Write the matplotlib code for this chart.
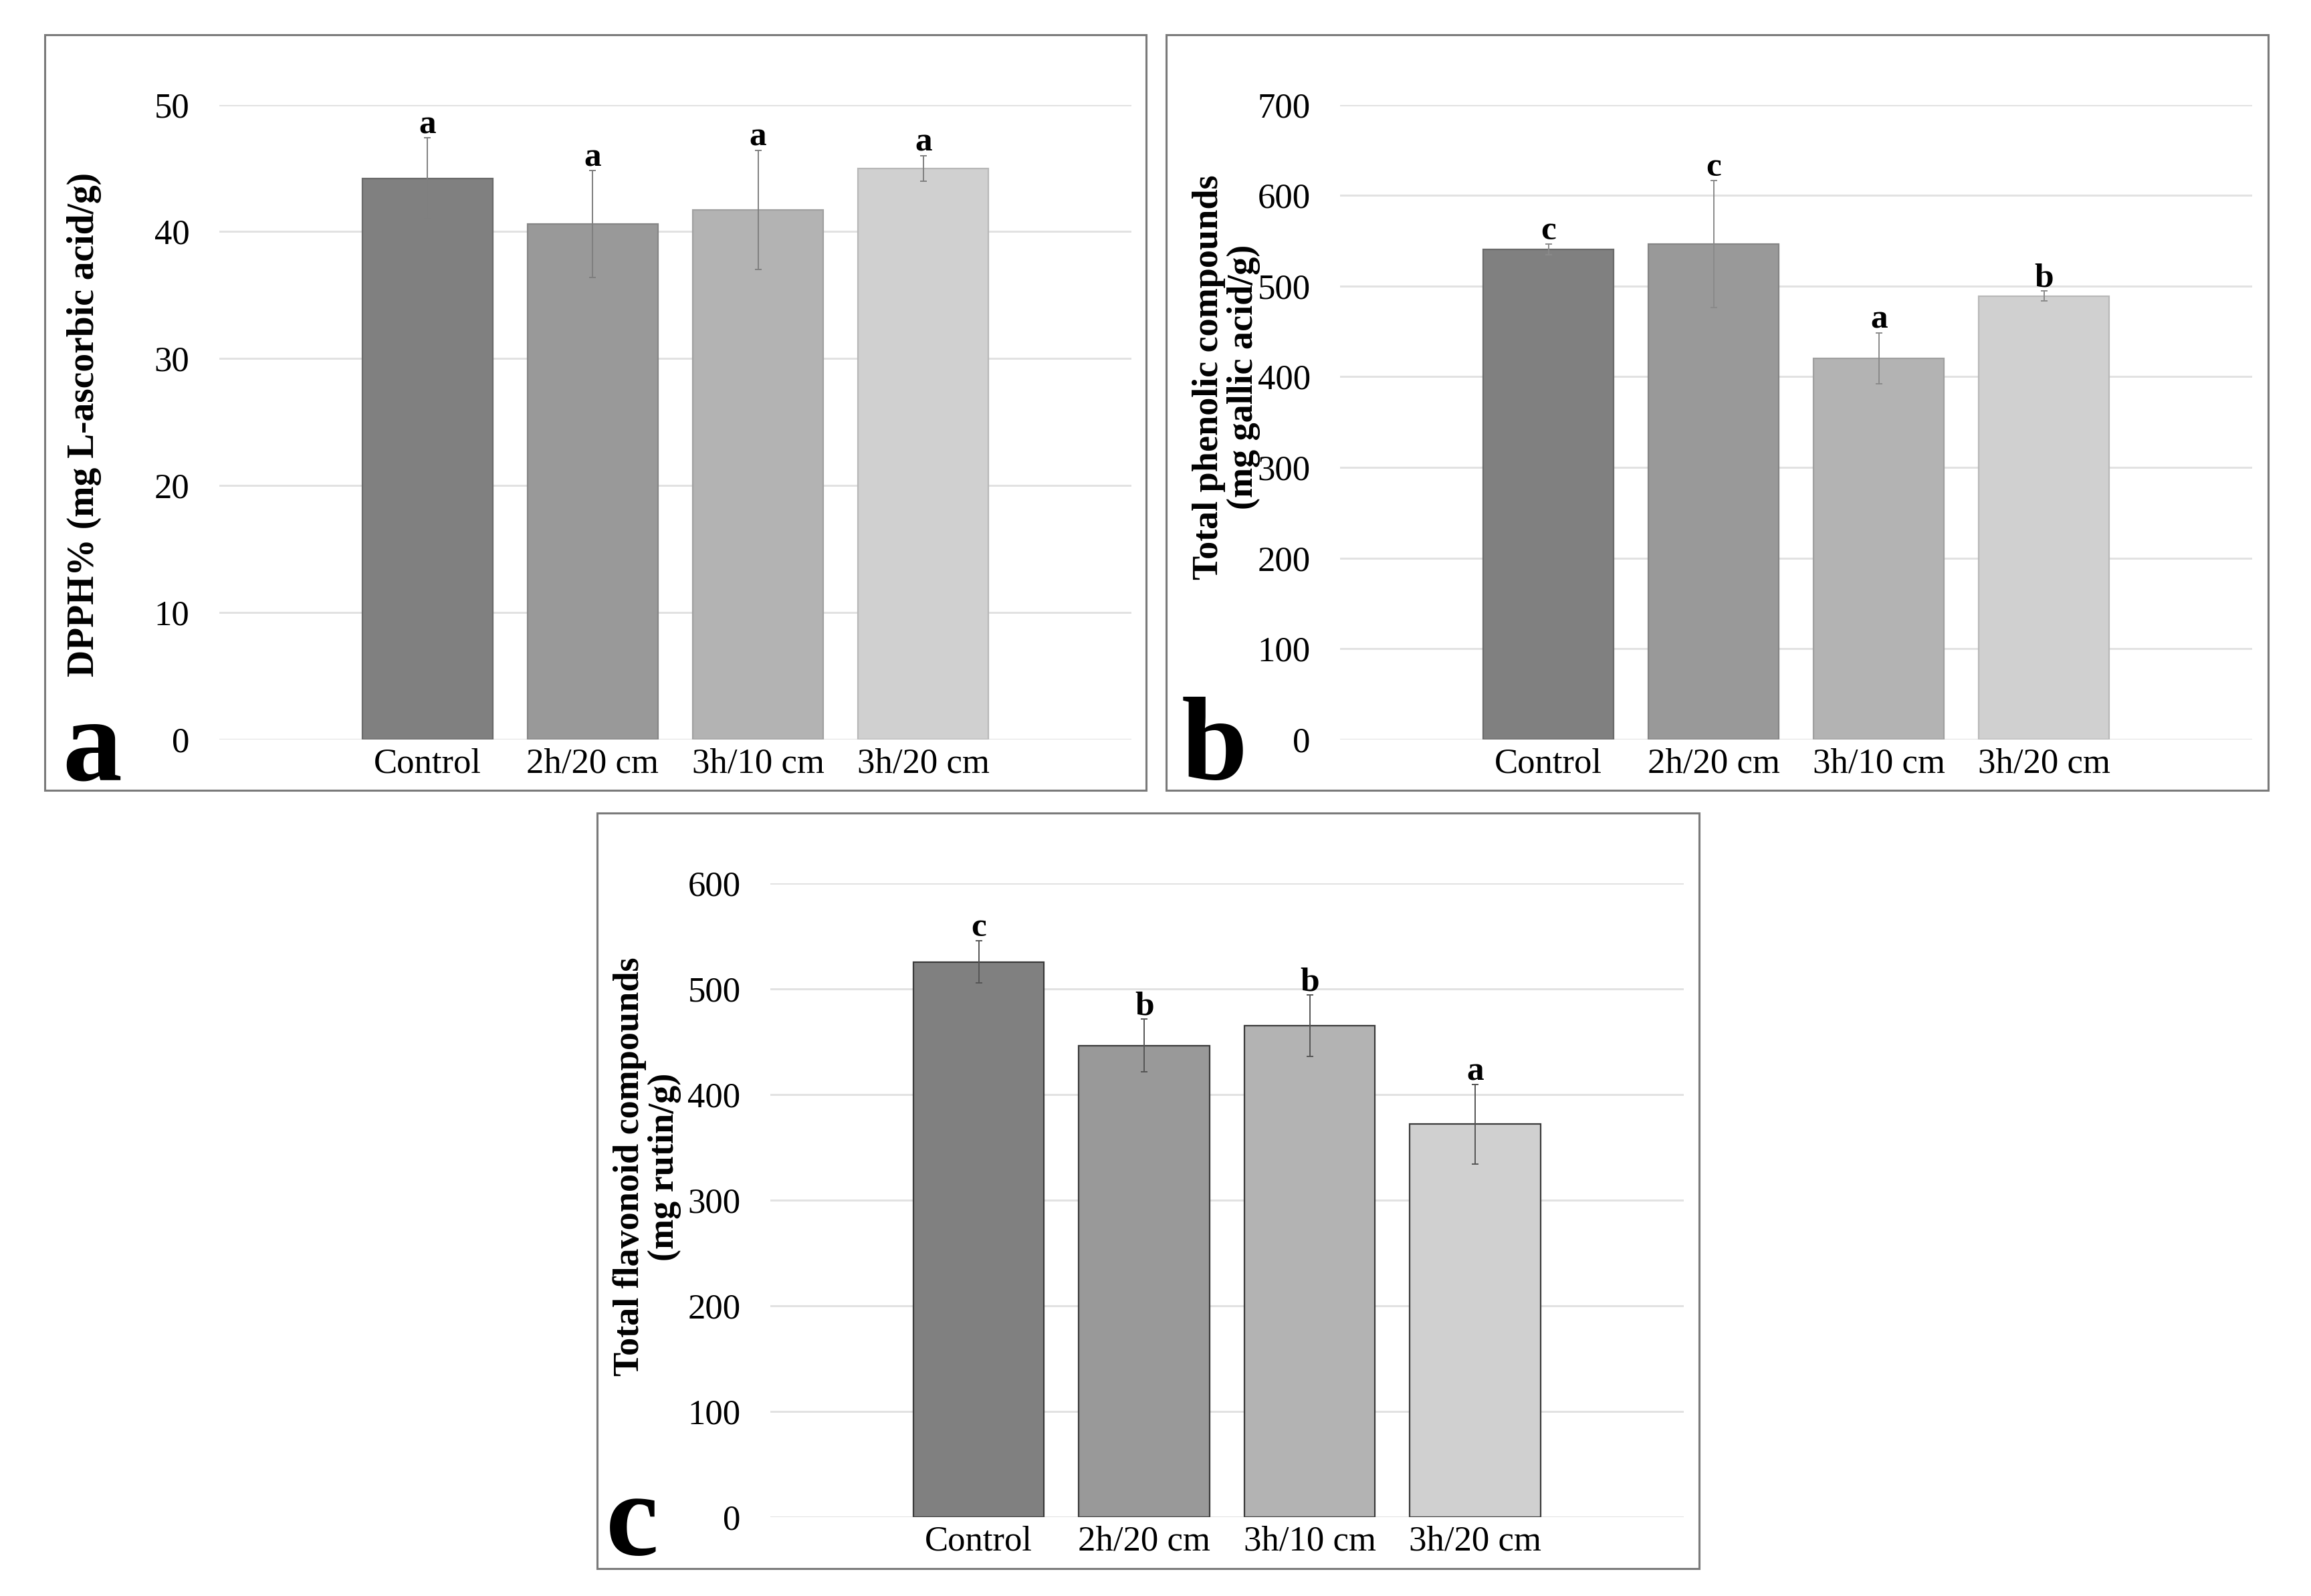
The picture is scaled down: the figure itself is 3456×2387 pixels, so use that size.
import numpy as np
import matplotlib
matplotlib.use('Agg')
import matplotlib.pyplot as plt
from matplotlib.patches import Rectangle

plt.rcParams['font.family'] = ['Liberation Serif', 'DejaVu Serif']

#%% Data
categories = ['Control', '2h/20 cm', '3h/10 cm', '3h/20 cm']
bar_colors = ['#808080', '#999999', '#b3b3b3', '#d0d0d0']

dpph_mean = [44.2, 40.6, 41.7, 45.0]
dpph_err = [3.2, 4.2, 4.7, 1.0]
dpph_letters = ['a', 'a', 'a', 'a']

phenolic_mean = [540.6, 546.5, 420.5, 489.0]
phenolic_err = [6.0, 70.0, 28.0, 5.5]
phenolic_letters = ['c', 'c', 'a', 'b']

flavonoid_mean = [525.5, 446.5, 465.0, 372.0]
flavonoid_err = [20.0, 25.0, 29.0, 37.5]
flavonoid_letters = ['c', 'b', 'b', 'a']


def draw_panel(ax, means, errs, letters, ymax, step, edges, errcolor):
    x = np.arange(len(categories))
    ax.bar(x, means, width=0.79, color=bar_colors, edgecolor=edges,
           linewidth=1.6, zorder=2)
    ax.errorbar(x, means, yerr=errs, fmt='none', ecolor=errcolor,
                elinewidth=1.4, capsize=3.5, capthick=1.4, zorder=3)
    for xi, m, e, lt in zip(x, means, errs, letters):
        ax.annotate(lt, (xi, m + e), xytext=(0, 5), textcoords='offset points',
                    ha='center', va='baseline', fontsize=37, fontweight='bold',
                    annotation_clip=False)
    ax.set_xlim(-1.26, 4.26)
    ax.set_ylim(0, ymax)
    ax.set_yticks(np.arange(0, ymax + 1, step))
    ax.set_xticks(x, categories)
    ax.grid(axis='y', color='#e2e2e2', lw=2.2)
    ax.set_axisbelow(True)
    for s in ax.spines.values():
        s.set_visible(False)
    ax.tick_params(length=0, labelsize=38)
    ax.tick_params(axis='y', pad=32)
    ax.tick_params(axis='x', pad=9)


fig = plt.figure(figsize=(34.56, 23.87), dpi=100)

# panel frames
for x0, y0, x1, y1 in [(0.0193, 0.5048, 0.4960, 0.9783),
                       (0.5046, 0.5048, 0.9814, 0.9783),
                       (0.2583, 0.0172, 0.7352, 0.4907)]:
    fig.add_artist(Rectangle((x0, y0), x1 - x0, y1 - y0, transform=fig.transFigure,
                             fill=False, edgecolor='#7a7a7a', lw=2.2))

ax_a = fig.add_axes([0.0949, 0.5367, 0.3947, 0.3977])
ax_b = fig.add_axes([0.5799, 0.5367, 0.3947, 0.3977])
ax_c = fig.add_axes([0.3333, 0.0494, 0.3953, 0.3972])

edges_ab = ['#6a6a6a', '#858585', '#a0a0a0', '#b8b8b8']
draw_panel(ax_a, dpph_mean, dpph_err, dpph_letters, 50, 10, edges_ab, '#7f7f7f')
draw_panel(ax_b, phenolic_mean, phenolic_err, phenolic_letters, 700, 100, edges_ab, '#8a8a8a')
draw_panel(ax_c, flavonoid_mean, flavonoid_err, flavonoid_letters, 600, 100, '#3a3a3a', '#555555')

# y labels
fig.text(0.0365, 0.734, 'DPPH% (mg L-ascorbic acid/g)', rotation=90,
         ha='center', va='center', fontsize=40, fontweight='bold')
fig.text(0.5307, 0.7637, 'Total phenolic compounds\n(mg gallic acid/g)', rotation=90,
         ha='center', va='center', fontsize=39, fontweight='bold',
         multialignment='center', linespacing=1.05)
fig.text(0.2800, 0.269, 'Total flavonoid compounds\n(mg rutin/g)', rotation=90,
         ha='center', va='center', fontsize=39, fontweight='bold',
         multialignment='center', linespacing=1.05)

# panel letters
for lbl, px, py in [('a', 0.0399, 0.5115), ('b', 0.5255, 0.5115), ('c', 0.2734, 0.026)]:
    fig.text(px, py, lbl, ha='center', va='baseline', fontsize=128, fontweight='bold')

fig.savefig('out.png', dpi=100)
